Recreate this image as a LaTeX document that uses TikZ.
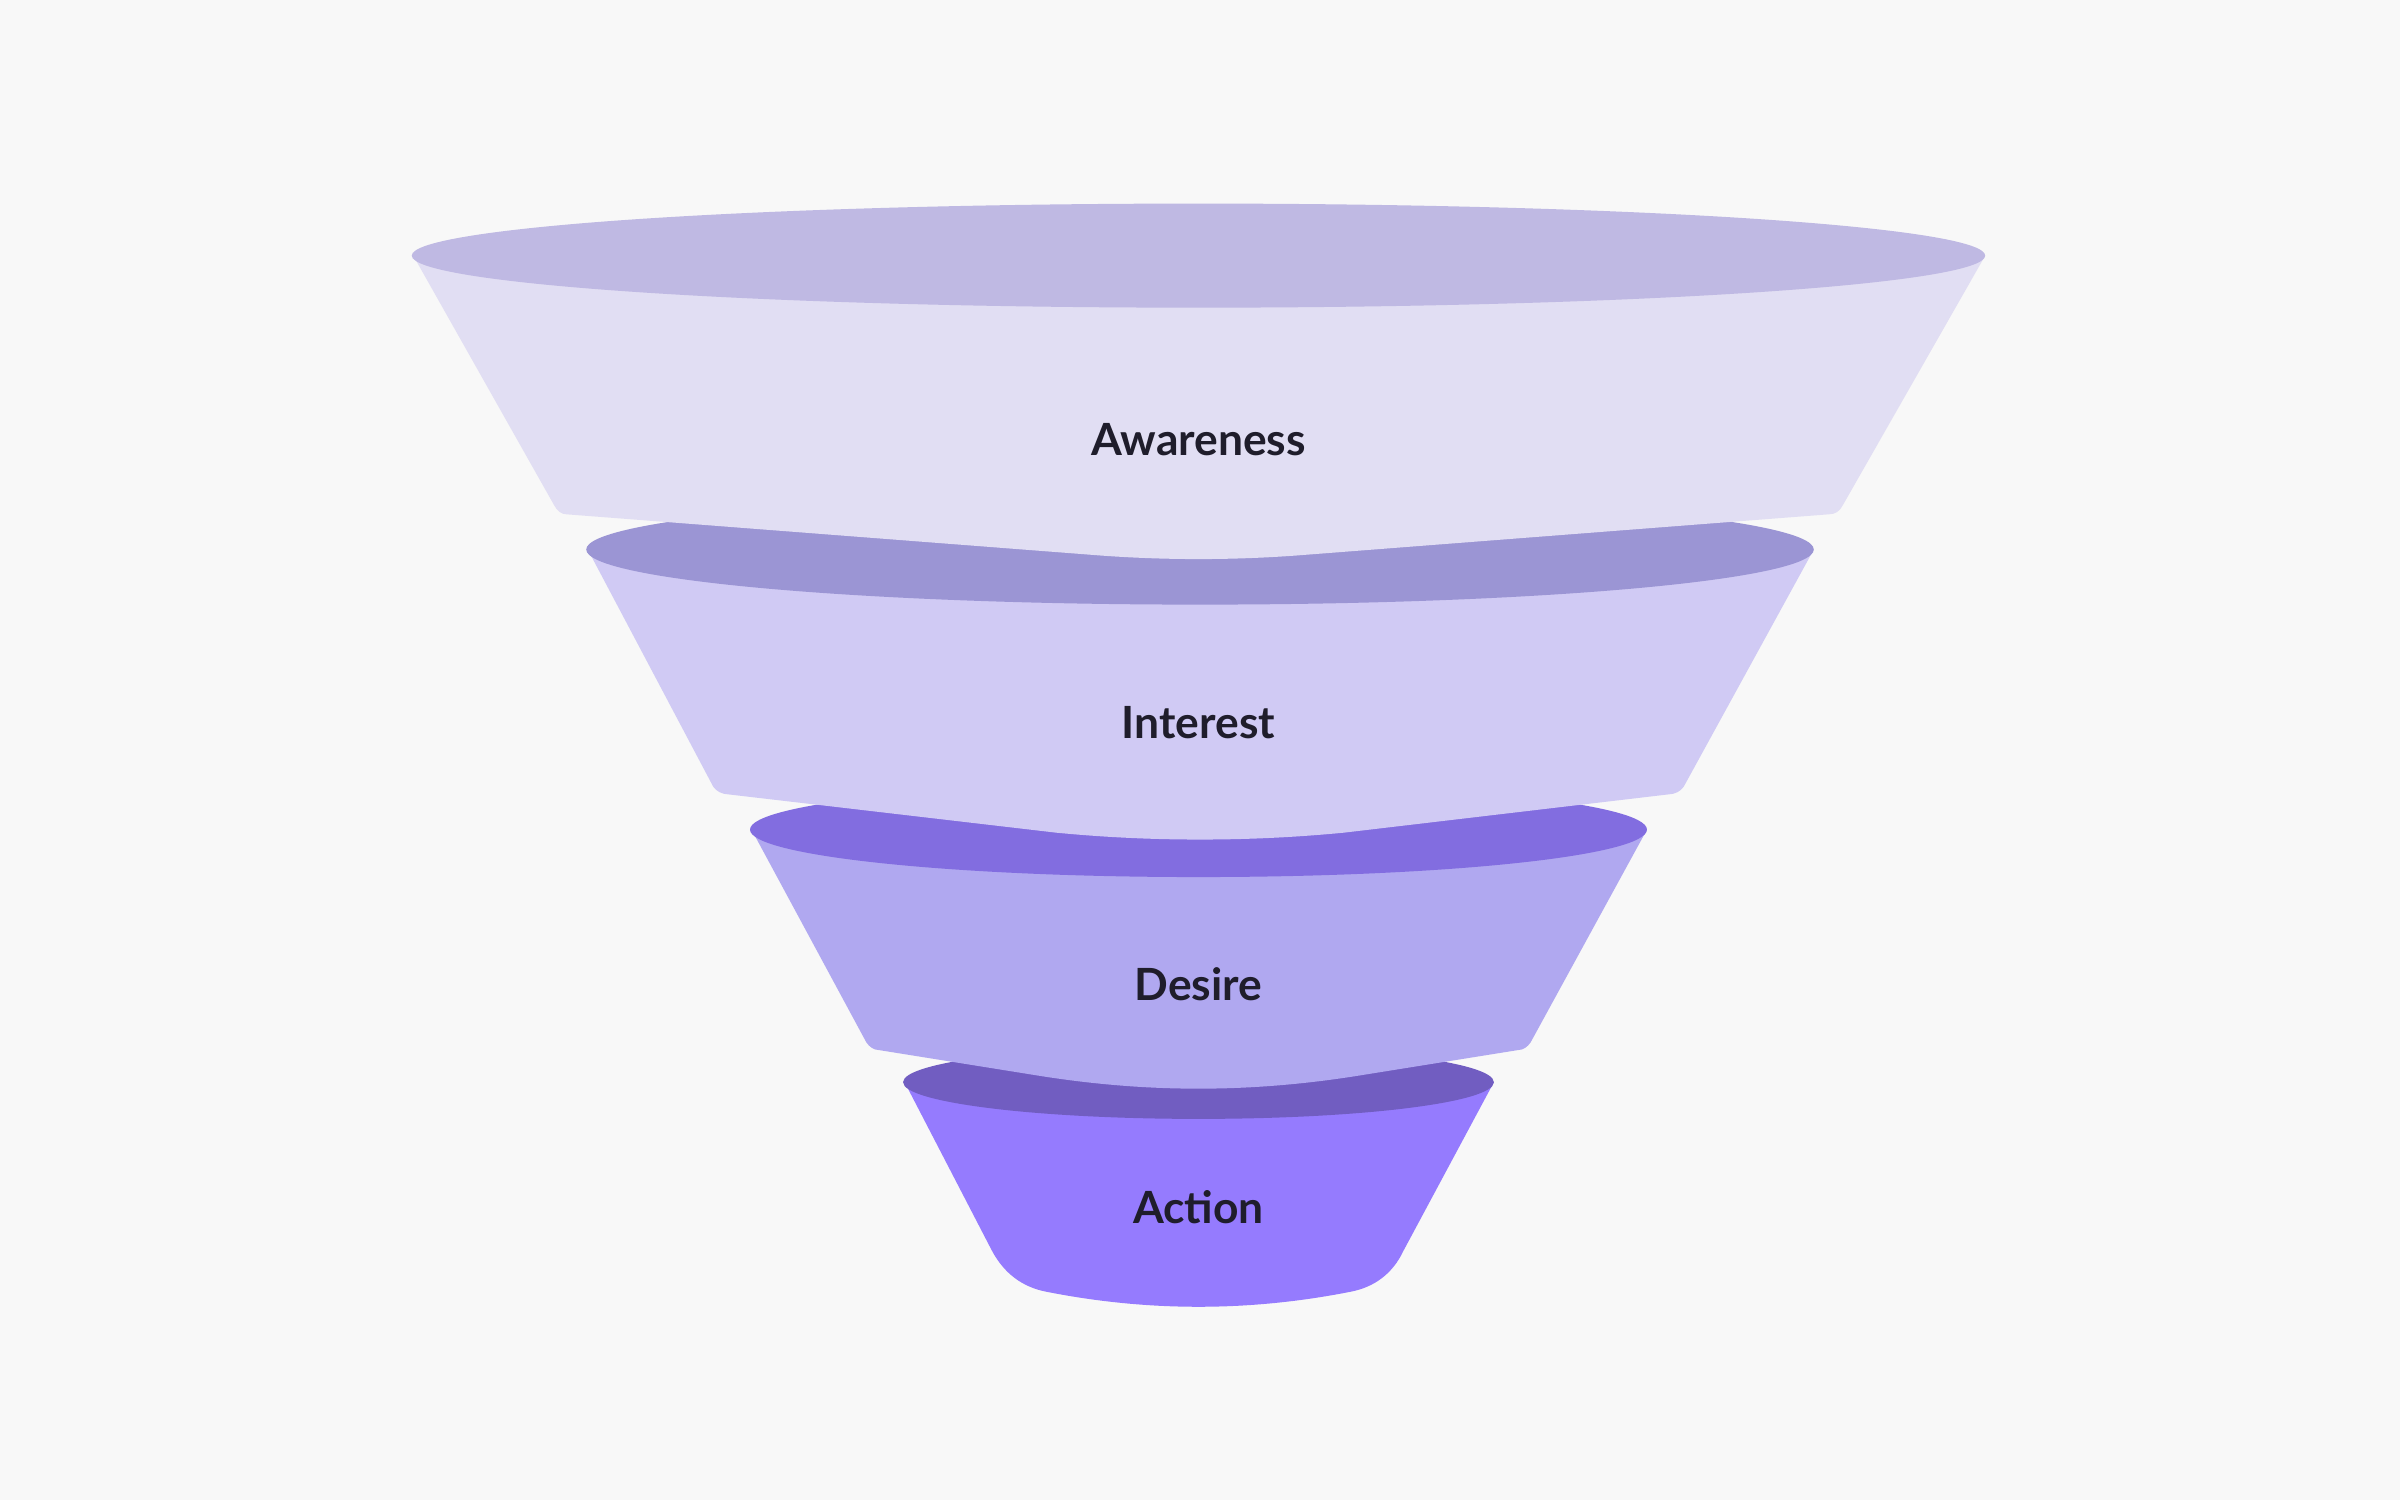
\documentclass[tikz,border=0pt]{standalone}
\usepackage{fontspec}
\setmainfont{Lato}
\definecolor{bg}{HTML}{F8F8F8}
\definecolor{txt}{HTML}{1F1D2B}
\definecolor{aTop}{HTML}{BFB9E3}\definecolor{aBody}{HTML}{E1DEF3}
\definecolor{iTop}{HTML}{9B95D4}\definecolor{iBody}{HTML}{D0CAF4}
\definecolor{dTop}{HTML}{826DE0}\definecolor{dBody}{HTML}{B0A8F0}
\definecolor{cTop}{HTML}{715DC1}\definecolor{cBody}{HTML}{957BFE}
\tikzset{lbl/.style={text=txt,font=\fontsize{14.5}{16}\selectfont\bfseries}}
\begin{document}
\begin{tikzpicture}[x=0.5pt,y=-0.5pt]
\fill[bg] (0,0) rectangle (1568,980);
\useasboundingbox (0,0) rectangle (1568,980);
% Action
\fill[cBody] (591,707) -- (648,817) .. controls (656,832) and (668,841) .. (684,844)
  .. controls (750,857) and (816,857) .. (882,844) .. controls (898,841) and (910,832) .. (917,817) -- (976,707) -- cycle;
\fill[cTop] (783,707) ellipse [x radius=193, y radius=24];
% Desire
\fill[dBody] (491,542) -- (566,681) .. controls (568,684) and (571,686) .. (574,686) -- (680,703)
  .. controls (750,714) and (816,714) .. (886,703) -- (992,686) .. controls (995,686) and (998,684) .. (1000,681) -- (1076,542) -- cycle;
\fill[dTop] (783,542) ellipse [x radius=293, y radius=31];
% Interest
\fill[iBody] (384,359) -- (466,514) .. controls (468,517) and (472,519) .. (476,519) -- (690,544)
  .. controls (752,550) and (816,550) .. (878,544) -- (1090,519) .. controls (1094,519) and (1098,517) .. (1100,514) -- (1185,359) -- cycle;
\fill[iTop] (784,359) ellipse [x radius=401, y radius=36];
% Awareness
\fill[aBody] (270,167) -- (362,330) .. controls (364,334) and (367,336) .. (370,336) -- (720,363)
  .. controls (762,366) and (804,366) .. (846,363) -- (1195,336) .. controls (1199,336) and (1202,334) .. (1204,330) -- (1297,167) -- cycle;
\fill[aTop] (783,167) ellipse [x radius=514, y radius=34];
\node[lbl] (aw) at (783,287) {Awareness};
\node[lbl] (in) at (783,472) {Interest};
\node[lbl] (de) at (783,643) {Desire};
\node[lbl] (ac) at (783,789) {Action};
\end{tikzpicture}
\end{document}
